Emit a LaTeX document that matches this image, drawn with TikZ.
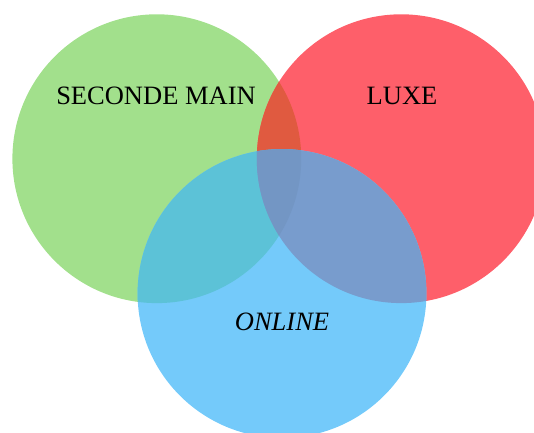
\documentclass[tikz,border=0pt]{standalone}
\usepackage{fontspec}
\setmainfont{Liberation Serif}
\definecolor{cgreen}{HTML}{A2E08C}
\definecolor{cred}{HTML}{FE5F6A}
\definecolor{cblue}{HTML}{74CAFA}
\definecolor{cgr}{HTML}{E05A40}
\definecolor{cgb}{HTML}{5CC2D7}
\definecolor{crb}{HTML}{789CCD}
\definecolor{crgb}{HTML}{7396C4}
\tikzset{lbl/.style={font=\fontsize{26.5}{30}\selectfont, text=black, anchor=base, inner sep=0pt}}
\begin{document}
\begin{tikzpicture}[x=1pt,y=-1pt]
\useasboundingbox (0,0) rectangle (534,432);
\def\R{144.4}
\coordinate (G) at (156.8,158.7);
\coordinate (Rd) at (401.2,158.7);
\coordinate (B) at (282,293.5);
\clip (0,0) rectangle (534,432);
\fill[cgreen] (G) circle (\R);
\fill[cred] (Rd) circle (\R);
\fill[cblue] (B) circle (\R);
\begin{scope}
\clip (G) circle (\R);
\fill[cgr] (Rd) circle (\R);
\fill[cgb] (B) circle (\R);
\end{scope}
\begin{scope}
\clip (Rd) circle (\R);
\clip (B) circle (\R);
\fill[crb] (-100,-100) rectangle (700,600);
\end{scope}
\begin{scope}
\clip (G) circle (\R);
\clip (Rd) circle (\R);
\clip (B) circle (\R);
\fill[crgb] (-100,-100) rectangle (700,600);
\end{scope}
\node[lbl] (sm) at (156,104) {SECONDE MAIN};
\node[lbl] (lx) at (402,104) {LUXE};
\node[lbl] (on) at (282,330) {\itshape ONLINE};
\end{tikzpicture}
\end{document}
